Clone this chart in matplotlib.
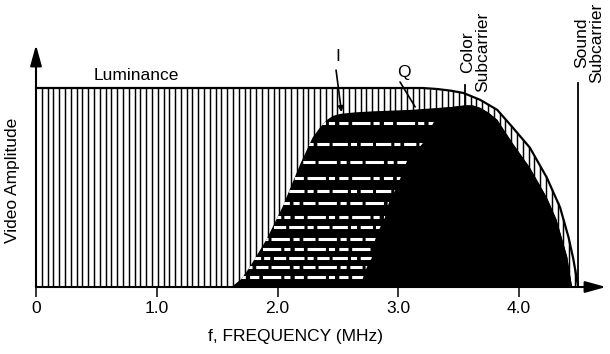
import numpy as np
import matplotlib
matplotlib.use("Agg")
import matplotlib.pyplot as plt

plt.rcParams['font.family'] = ['Liberation Sans', 'DejaVu Sans']

# ---- data ----
# luminance envelope (MHz, relative amplitude)
lum_f = [0.0, 3.20, 3.32, 3.43, 3.54, 3.68, 3.82, 3.95, 4.09, 4.23, 4.34, 4.41, 4.45, 4.48, 4.49]
lum_a = [1.0, 1.00, 0.995, 0.987, 0.975, 0.94, 0.89, 0.80, 0.70, 0.55, 0.40, 0.25, 0.14, 0.035, 0.0]

# I-channel (chrominance) envelope
i_f = [1.62, 1.70, 1.77, 1.91, 2.04, 2.19, 2.29, 2.35, 2.41, 2.46, 2.52, 2.65, 2.80,
       3.10, 3.45, 3.56, 3.62, 3.68, 3.75, 3.82, 3.95, 4.09, 4.23, 4.31, 4.40, 4.42, 4.44]
i_a = [0.0, 0.04, 0.10, 0.24, 0.40, 0.62, 0.75, 0.80, 0.84, 0.86, 0.87, 0.878, 0.883,
       0.89, 0.905, 0.913, 0.912, 0.90, 0.875, 0.84, 0.72, 0.60, 0.45, 0.34, 0.15, 0.07, 0.0]

# Q-channel left edge (right part shared with I)
q_left_f = [2.69, 2.71, 2.74, 2.78, 2.79, 2.81, 2.85, 2.89, 2.92, 2.97, 3.02,
            3.07, 3.20, 3.29, 3.37]
q_left_a = [0.0, 0.05, 0.10, 0.145, 0.19, 0.24, 0.30, 0.35, 0.42, 0.48, 0.55,
            0.63, 0.72, 0.824, 0.90]

# white dashed rows inside the I-only band
stripe_a = [0.824, 0.72, 0.63, 0.55, 0.48, 0.42, 0.35, 0.30, 0.24, 0.19, 0.145, 0.10, 0.05]

tick_pos = [0, 1, 2, 3, 4]
tick_lbl = ['0', '1.0', '2.0', '3.0', '4.0']

color_sub = 3.55
sound_sub = 4.49

# ---- figure ----
W, H = 610, 354
fig = plt.figure(figsize=(W / 100, H / 100), dpi=100)
x0, x1, y0, y1 = 36, 606, 287, 45
ax = fig.add_axes([x0 / W, 1 - y0 / H, (x1 - x0) / W, (y0 - y1) / H])
ax.set_xlim(0, (x1 - x0) / 120.75)
ax.set_ylim(0, (y0 - y1) / 199.0)
for s in ax.spines.values():
    s.set_visible(False)

# luminance hatch (vertical lines)
hx = np.arange(0.048, lum_f[-1], 0.048)
hh = np.interp(hx, lum_f, lum_a)
ax.vlines(hx, 0, hh, color='black', lw=1.05, zorder=1)
ax.plot(lum_f, lum_a, color='black', lw=1.6, zorder=2, solid_capstyle='butt')

# I band
i_poly = ax.fill(i_f, i_a, color='black', lw=0, zorder=3)[0]
patterns = [(0, (3, 1.2, 6, 1.0, 2, 1.4)), (1, (5, 1.0, 2, 1.2, 4, 1.0)),
            (2, (2, 1.2, 4, 1.0, 6, 1.2))]
for j, a in enumerate(stripe_a):
    ln, = ax.plot([1.4, 3.6], [a, a], color='white', lw=2.2,
                  linestyle=patterns[j % 3], zorder=4, solid_capstyle='butt')
    ln.set_clip_path(i_poly)

# Q band (solid)
k = i_f.index(3.56)
q_f = q_left_f + i_f[k:]
q_a = q_left_a + i_a[k:]
ax.fill(q_f, q_a, color='black', lw=0, zorder=5)

# subcarrier markers
ax.plot([color_sub, color_sub], [0.913, 1.015], color='black', lw=1.3, zorder=6)
ax.plot([sound_sub, sound_sub], [0, 1.025], color='black', lw=1.3, zorder=6)

fs = 12.5
ax.text(color_sub + 0.09, 0.98, 'Color\nSubcarrier', rotation=90, ha='center',
        va='bottom', multialignment='center', fontsize=fs, linespacing=1.0)
ax.text(sound_sub + 0.09, 1.025, 'Sound\nSubcarrier', rotation=90, ha='center',
        va='bottom', multialignment='center', fontsize=fs, linespacing=1.0)

ax.text(0.83, 1.04, 'Luminance', ha='center', va='baseline', fontsize=fs)

# I and Q pointers
ax.text(2.50, 1.16, 'I', ha='center', va='center', fontsize=fs)
ax.annotate('', xy=(2.53, 0.879), xytext=(2.485, 1.09),
            arrowprops=dict(arrowstyle='-|>', lw=1.2, color='black',
                            mutation_scale=8, shrinkA=0, shrinkB=0), zorder=7)
ax.text(3.05, 1.08, 'Q', ha='center', va='center', fontsize=fs)
ax.annotate('', xy=(3.14, 0.905), xytext=(3.015, 1.03),
            arrowprops=dict(arrowstyle='-', lw=1.2, color='black',
                            shrinkA=0, shrinkB=0), zorder=7)

# axes arrows
xmax = ax.get_xlim()[1]
ymax = ax.get_ylim()[1]
ax.annotate('', xy=(xmax, 0), xytext=(0, 0), annotation_clip=False,
            arrowprops=dict(arrowstyle='-|>,head_length=0.9,head_width=0.25',
                            lw=1.5, color='black', mutation_scale=14,
                            shrinkA=0, shrinkB=0), zorder=8)
ax.annotate('', xy=(0, ymax), xytext=(0, 0), annotation_clip=False,
            arrowprops=dict(arrowstyle='-|>,head_length=0.9,head_width=0.25',
                            lw=1.5, color='black', mutation_scale=14,
                            shrinkA=0, shrinkB=0), zorder=8)

ax.set_xticks(tick_pos)
ax.set_xticklabels(tick_lbl, fontsize=fs)
ax.tick_params(axis='x', direction='out', length=7, width=1.1, pad=3)
ax.set_yticks([])

fig.text(295 / W, 1 - 336 / H, 'f, FREQUENCY (MHz)', ha='center', va='center', fontsize=fs)
fig.text(12 / W, 1 - 180 / H, 'Video Amplitude', ha='center', va='center',
         rotation=90, fontsize=fs)

fig.savefig('out.png', dpi=100)
